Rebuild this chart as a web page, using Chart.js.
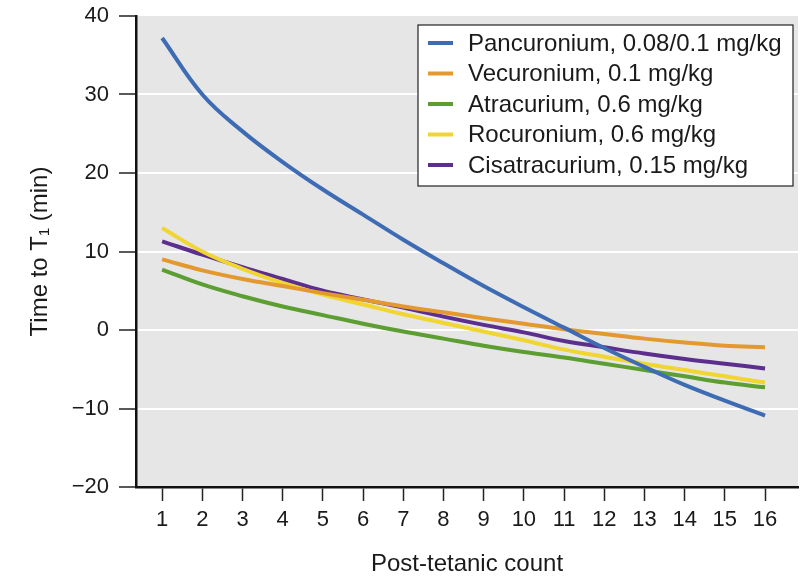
<!DOCTYPE html>
<html>
<head>
<meta charset="utf-8">
<script src="https://cdn.jsdelivr.net/npm/chart.js@4.4.1/dist/chart.umd.min.js"></script>
<style>
  html, body { margin: 0; padding: 0; background: #fff; }
  #wrap { width: 810px; height: 579px; }
</style>
</head>
<body>
<div id="wrap"><canvas id="ptcChart" width="810" height="579"></canvas></div>
<script>
// post-tetanic count (x) and time to T1 (min) per drug
const counts = [1, 2, 3, 4, 5, 6, 7, 8, 9, 10, 11, 12, 13, 14, 15, 16];
const pancuronium   = [37.2, 30.0, 25.3, 21.4, 17.9, 14.7, 11.5, 8.5, 5.6, 2.9, 0.3, -2.3, -4.7, -7.0, -9.0, -10.9];
const vecuronium    = [9.0, 7.6, 6.5, 5.6, 4.7, 3.85, 3.0, 2.25, 1.5, 0.8, 0.1, -0.5, -1.1, -1.6, -2.0, -2.2];
const atracurium    = [7.7, 5.8, 4.3, 3.0, 1.9, 0.8, -0.2, -1.1, -2.0, -2.8, -3.5, -4.3, -5.1, -5.9, -6.7, -7.3];
const rocuronium    = [13.0, 10.0, 7.8, 6.0, 4.5, 3.25, 2.0, 0.9, -0.2, -1.3, -2.5, -3.4, -4.3, -5.1, -5.9, -6.7];
const cisatracurium = [11.3, 9.6, 8.0, 6.5, 5.0, 3.9, 2.85, 1.7, 0.65, -0.3, -1.4, -2.2, -3.0, -3.7, -4.3, -4.9];
const yTicks = [-20, -10, 0, 10, 20, 30, 40];

const fontFam = '"Liberation Sans", Arial, Helvetica, sans-serif';
const txt = '#1a1a1a';

function series(label, values, color) {
    return {
        label: label,
        data: counts.map((c, i) => ({ x: c, y: values[i] })),
        borderColor: color,
        backgroundColor: color,
        borderWidth: 4,
        pointRadius: 0,
        tension: 0.4,
        fill: false
    };
}

// grey plotting panel
const panelBg = {
    id: 'panelBg',
    beforeDraw(chart) {
        const { ctx, chartArea: a } = chart;
        ctx.save();
        ctx.fillStyle = '#e6e6e6';
        ctx.fillRect(a.left, a.top, a.right - a.left, a.bottom - a.top);
        ctx.restore();
    }
};

// boxed legend inside the top-right of the panel
const boxLegend = {
    id: 'boxLegend',
    afterDraw(chart) {
        const ctx = chart.ctx;
        const x0 = 418, y0 = 25, w = 375, h = 161;
        ctx.save();
        ctx.fillStyle = '#fff';
        ctx.fillRect(x0, y0, w, h);
        ctx.strokeStyle = '#222';
        ctx.lineWidth = 1.2;
        ctx.strokeRect(x0, y0, w, h);
        ctx.font = '24px ' + fontFam;
        ctx.textBaseline = 'middle';
        chart.data.datasets.forEach((ds, i) => {
            const y = y0 + 18 + i * 30.5;
            ctx.strokeStyle = ds.borderColor;
            ctx.lineWidth = 4;
            ctx.beginPath();
            ctx.moveTo(x0 + 10, y);
            ctx.lineTo(x0 + 35, y);
            ctx.stroke();
            ctx.fillStyle = txt;
            ctx.fillText(ds.label, x0 + 50, y + 1);
        });
        ctx.restore();
    }
};

new Chart(document.getElementById('ptcChart'), {
    type: 'line',
    data: {
        datasets: [
            series('Pancuronium, 0.08/0.1 mg/kg', pancuronium, '#3e6cb4'),
            series('Vecuronium, 0.1 mg/kg', vecuronium, '#e3992f'),
            series('Atracurium, 0.6 mg/kg', atracurium, '#5c9e31'),
            series('Rocuronium, 0.6 mg/kg', rocuronium, '#f0d533'),
            series('Cisatracurium, 0.15 mg/kg', cisatracurium, '#5c2f8e')
        ]
    },
    options: {
        responsive: false,
        animation: false,
        layout: { padding: { top: 16, right: 12, left: 0, bottom: 0 } },
        plugins: {
            legend: { display: false },
            tooltip: { enabled: false }
        },
        scales: {
            x: {
                type: 'linear',
                min: 0.35,
                max: 16.82,
                afterBuildTicks: s => { s.ticks = counts.map(v => ({ value: v })); },
                afterFit: s => { s.height = 92; s.paddingLeft = 0; s.paddingRight = 0; },
                grid: { drawOnChartArea: false, tickColor: '#222', tickLength: 14, tickWidth: 1.5 },
                border: { color: '#111', width: 2.5 },
                ticks: { color: txt, font: { family: fontFam, size: 22 }, padding: 6, maxRotation: 0, autoSkip: false },
                title: { display: true, text: 'Post-tetanic count', color: txt, font: { family: fontFam, size: 24 }, padding: { top: 0, bottom: 0 } }
            },
            y: {
                min: -20,
                max: 40,
                afterBuildTicks: s => { s.ticks = yTicks.map(v => ({ value: v })); },
                afterFit: s => { s.width = 136; s.paddingTop = 0; s.paddingBottom = 0; },
                grid: {
                    color: c => (c.tick && (c.tick.value === 40 || c.tick.value === -20)) ? 'rgba(0,0,0,0)' : '#ffffff',
                    lineWidth: 2,
                    tickColor: '#222',
                    tickLength: 17,
                    tickWidth: 1.5
                },
                border: { color: '#111', width: 2.5 },
                ticks: {
                    color: txt,
                    font: { family: fontFam, size: 22 },
                    padding: 10,
                    callback: v => String(v).replace('-', '\u2212')
                },
                title: { display: true, text: 'Time to T\u2081 (min)', color: txt, font: { family: fontFam, size: 24 }, padding: { top: 26, bottom: 0 } }
            }
        }
    },
    plugins: [panelBg, boxLegend]
});
</script>
</body>
</html>
